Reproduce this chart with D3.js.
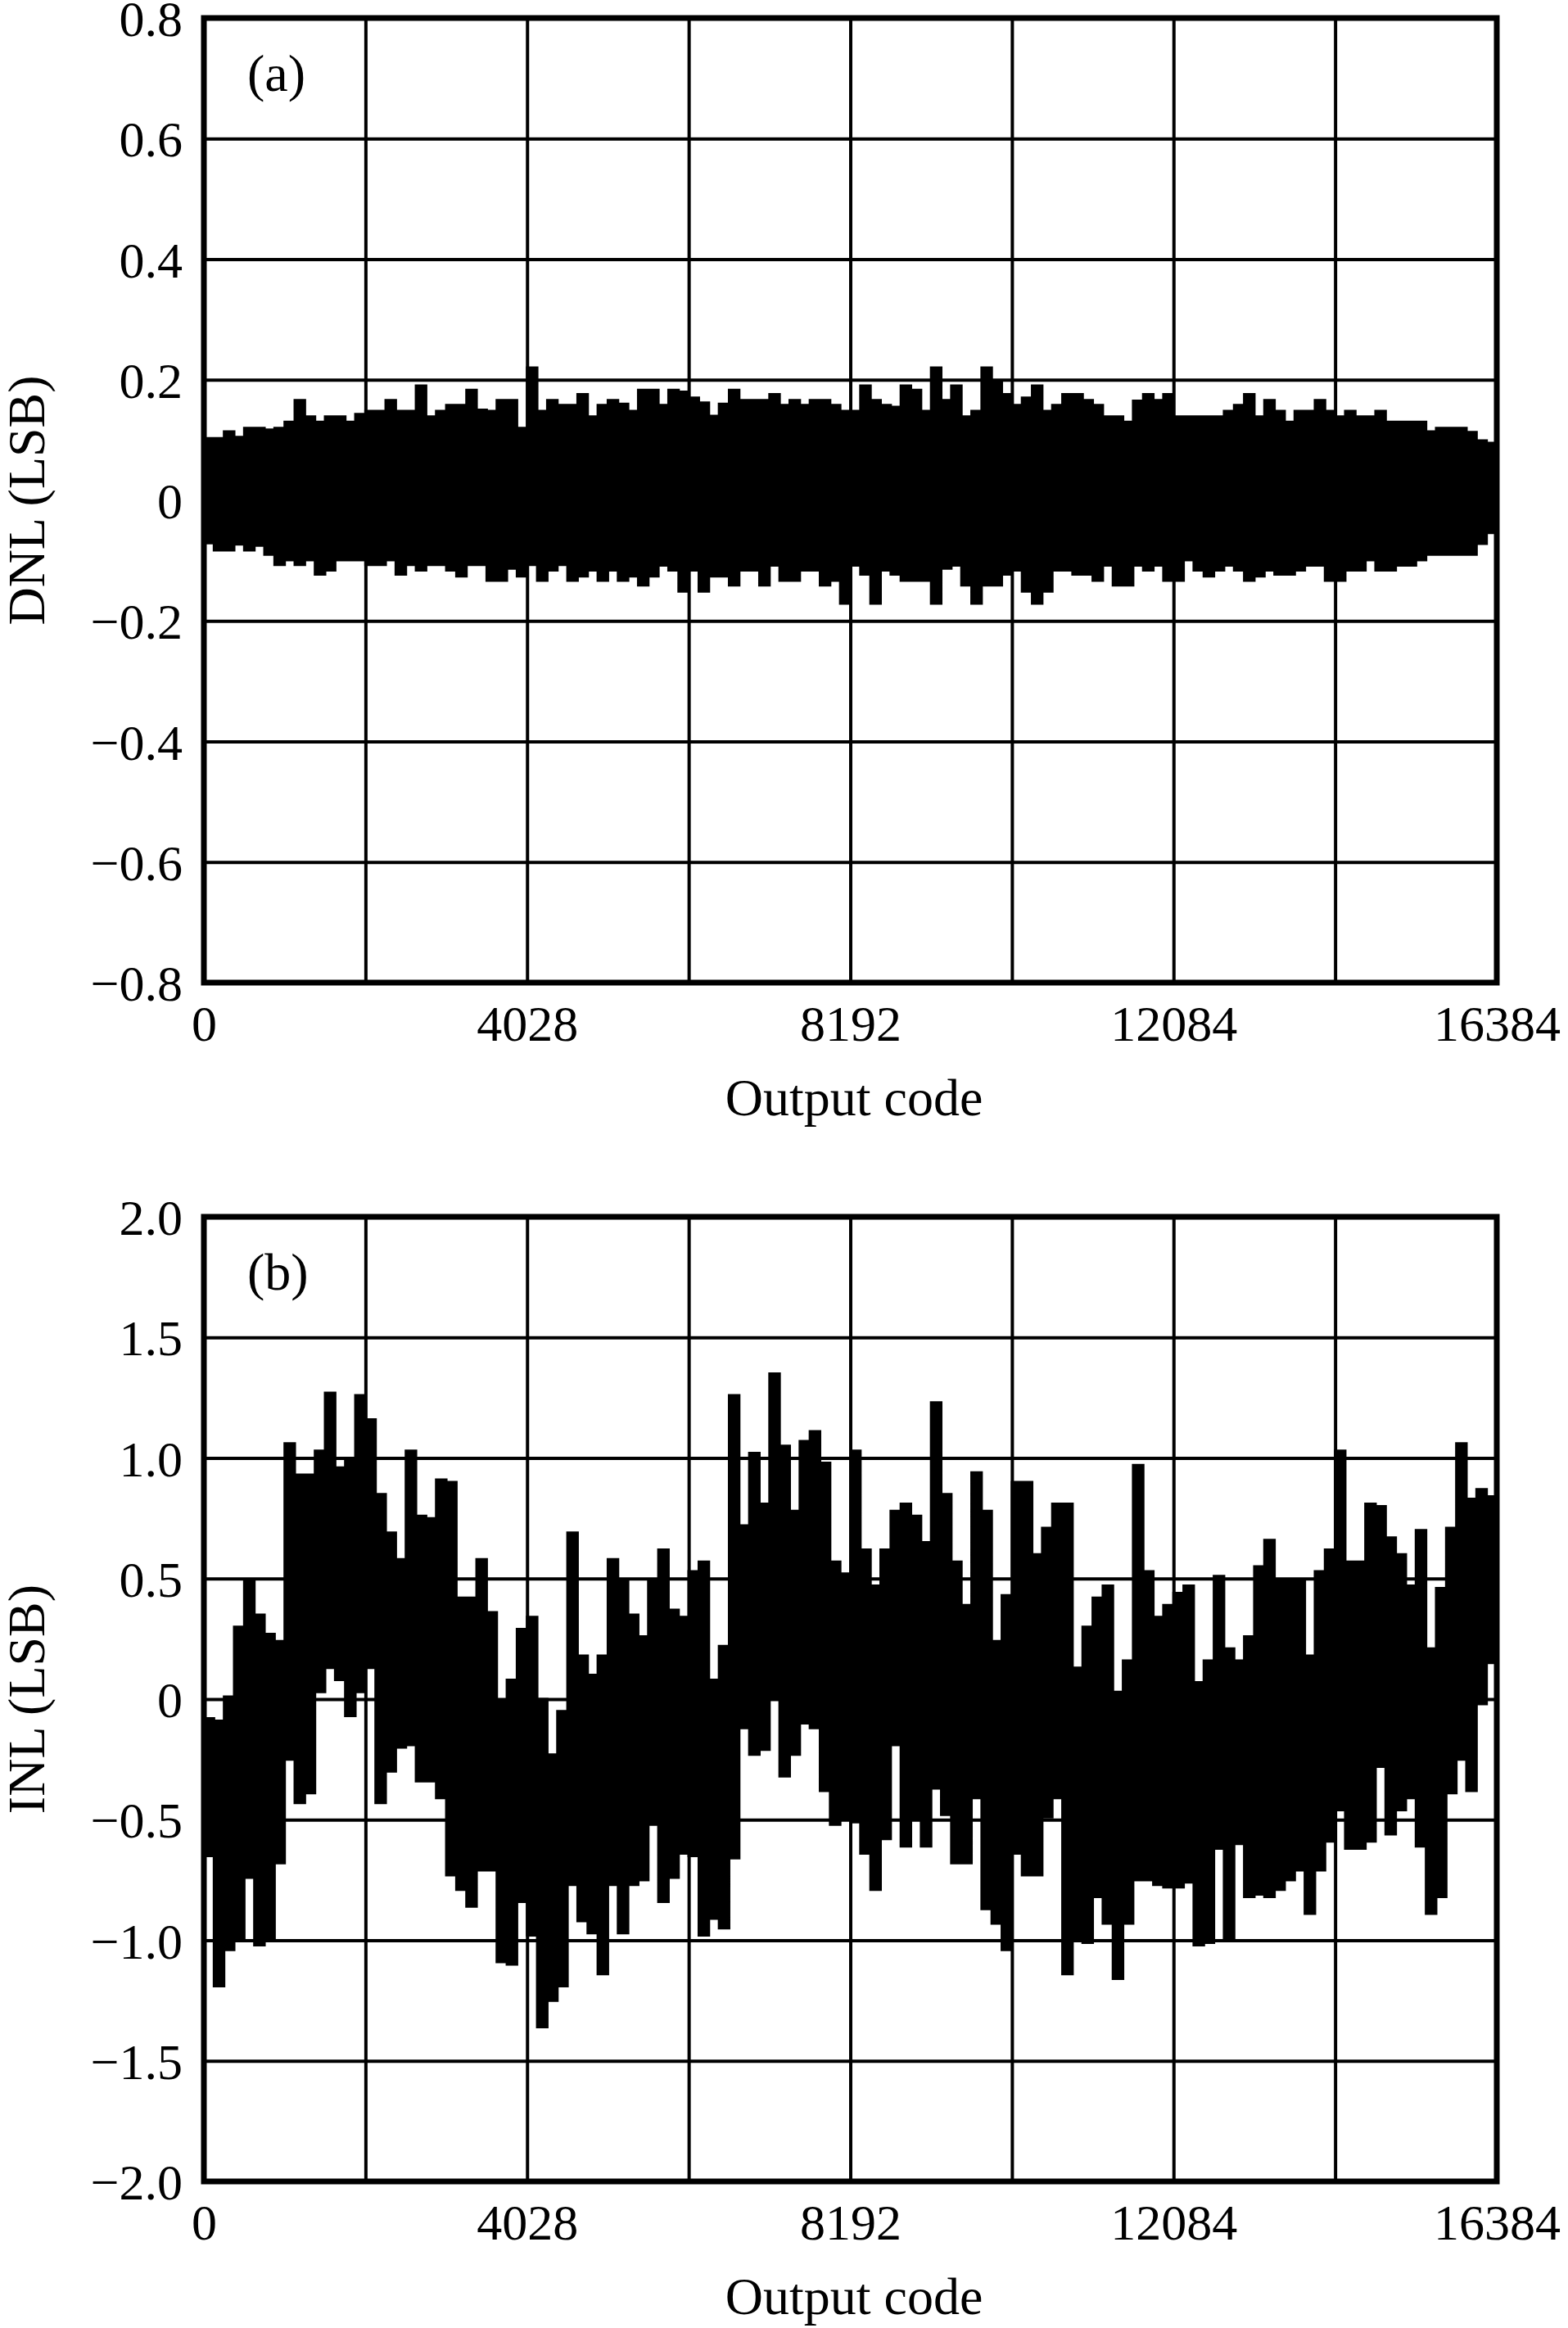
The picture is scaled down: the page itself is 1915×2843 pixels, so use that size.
<!DOCTYPE html>
<html><head><meta charset="utf-8">
<script src="https://cdn.jsdelivr.net/npm/d3@7"></script>
<style>body{margin:0;background:#fff}svg{display:block}</style>
</head><body>
<svg id="c" width="1915" height="2843"></svg>
<script>
// ---------------- data ----------------
const codeMax = 16384;
const binSize = 128; // codes per envelope bin
const xTickValues = [0, 4096, 8192, 12288, 16384];
const xTickLabels = ["0", "4028", "8192", "12084", "16384"];
const xGridValues = [0, 2048, 4096, 6144, 8192, 10240, 12288, 14336, 16384];
const xTitle = "Output code";

const dnlTicks = [0.8, 0.6, 0.4, 0.2, 0, -0.2, -0.4, -0.6, -0.8];
const dnlTickLabels = ["0.8", "0.6", "0.4", "0.2", "0", "\u22120.2", "\u22120.4", "\u22120.6", "\u22120.8"];
const dnlTitle = "DNL (LSB)";
const dnlTag = "(a)";

const inlTicks = [2.0, 1.5, 1.0, 0.5, 0, -0.5, -1.0, -1.5, -2.0];
const inlTickLabels = ["2.0", "1.5", "1.0", "0.5", "0", "\u22120.5", "\u22121.0", "\u22121.5", "\u22122.0"];
const inlTitle = "INL (LSB)";
const inlTag = "(b)";

// DNL envelope (max / min per 128-code bin)
const dnlUpper = [
0.103,0.103,0.114,0.105,0.120,0.120,0.117,0.120,0.130,0.166,
0.139,0.130,0.139,0.139,0.130,0.143,0.148,0.148,0.166,0.148,
0.148,0.190,0.139,0.148,0.158,0.158,0.183,0.150,0.148,0.166,
0.166,0.120,0.220,0.148,0.166,0.158,0.158,0.176,0.139,0.158,
0.166,0.160,0.148,0.183,0.183,0.158,0.183,0.180,0.170,0.162,
0.140,0.160,0.183,0.166,0.166,0.166,0.176,0.158,0.166,0.158,
0.166,0.166,0.158,0.148,
0.148,0.190,0.166,0.158,0.155,0.190,0.183,0.148,0.220,0.166,
0.190,0.139,0.148,0.220,0.196,0.176,0.158,0.170,0.190,0.148,
0.158,0.176,0.176,0.166,0.158,0.139,0.139,0.130,0.165,0.176,
0.166,0.176,0.139,0.139,0.139,0.139,0.139,0.148,0.158,0.176,
0.139,0.166,0.148,0.130,0.148,0.148,0.166,0.148,0.139,0.148,
0.139,0.139,0.148,0.130,0.130,0.130,0.130,0.114,0.120,0.120,
0.120,0.113,0.099,0.095];
const dnlLower = [
-0.071,-0.083,-0.083,-0.073,-0.083,-0.075,-0.090,-0.107,-0.099,-0.107,
-0.099,-0.123,-0.116,-0.099,-0.099,-0.099,-0.107,-0.107,-0.099,-0.123,
-0.107,-0.116,-0.107,-0.107,-0.116,-0.126,-0.107,-0.107,-0.133,-0.133,
-0.113,-0.126,-0.107,-0.133,-0.116,-0.107,-0.133,-0.126,-0.116,-0.133,
-0.116,-0.133,-0.126,-0.141,-0.126,-0.108,-0.116,-0.151,-0.116,-0.151,
-0.126,-0.126,-0.141,-0.116,-0.116,-0.141,-0.108,-0.133,-0.133,-0.116,
-0.116,-0.141,-0.133,-0.171,
-0.108,-0.123,-0.171,-0.116,-0.123,-0.133,-0.133,-0.133,-0.171,-0.113,
-0.108,-0.141,-0.171,-0.141,-0.141,-0.123,-0.116,-0.151,-0.171,-0.151,
-0.116,-0.116,-0.123,-0.123,-0.133,-0.108,-0.141,-0.141,-0.108,-0.116,
-0.108,-0.133,-0.133,-0.099,-0.116,-0.126,-0.116,-0.108,-0.116,-0.133,
-0.126,-0.116,-0.123,-0.123,-0.116,-0.108,-0.108,-0.133,-0.133,-0.116,
-0.116,-0.099,-0.116,-0.116,-0.108,-0.108,-0.099,-0.090,-0.090,-0.090,
-0.090,-0.090,-0.072,-0.054];

// INL envelope (max / min per 128-code bin)
const inlUpper = [
-0.08,-0.09,0.01,0.30,0.49,0.35,0.27,0.24,1.06,0.93,
0.93,1.03,1.27,0.96,0.99,1.26,1.16,0.85,0.69,0.58,
1.03,0.76,0.75,0.91,0.90,0.42,0.42,0.58,0.36,-0.01,
0.08,0.29,0.34,0.00,-0.23,-0.05,0.69,0.18,0.10,0.18,
0.58,0.49,0.35,0.26,0.49,0.62,0.37,0.34,0.53,0.57,
0.08,0.22,1.26,0.72,1.02,0.81,1.35,1.05,0.78,1.07,
1.11,0.98,0.57,0.52,
1.03,0.62,0.47,0.62,0.78,0.81,0.76,0.65,1.23,0.85,
0.57,0.39,0.94,0.78,0.24,0.43,0.90,0.90,0.60,0.71,
0.81,0.81,0.13,0.30,0.42,0.47,0.03,0.16,0.97,0.53,
0.34,0.39,0.44,0.47,0.07,0.16,0.51,0.21,0.16,0.26,
0.55,0.66,0.49,0.49,0.49,0.18,0.53,0.62,1.03,0.57,
0.57,0.81,0.80,0.67,0.60,0.47,0.70,0.21,0.46,0.71,
1.06,0.83,0.87,0.84];
const inlLower = [
-0.65,-1.19,-1.04,-1.00,-0.74,-1.02,-1.00,-0.68,-0.25,-0.43,
-0.39,0.03,0.13,0.08,-0.07,0.03,0.13,-0.43,-0.30,-0.20,
-0.19,-0.34,-0.34,-0.41,-0.73,-0.79,-0.86,-0.71,-0.71,-1.09,
-1.10,-0.84,-0.98,-1.36,-1.25,-1.19,-0.77,-0.92,-0.97,-1.14,
-0.77,-0.97,-0.77,-0.75,-0.52,-0.84,-0.74,-0.64,-0.65,-0.98,
-0.91,-0.95,-0.66,-0.12,-0.23,-0.21,0.00,-0.32,-0.23,-0.10,
-0.12,-0.38,-0.52,-0.50,
-0.51,-0.64,-0.79,-0.58,-0.19,-0.61,-0.50,-0.61,-0.37,-0.48,
-0.68,-0.68,-0.41,-0.87,-0.93,-1.04,-0.64,-0.73,-0.73,-0.49,
-0.41,-1.14,-1.00,-1.01,-0.82,-0.93,-1.16,-0.93,-0.75,-0.75,
-0.77,-0.78,-0.78,-0.76,-1.02,-1.01,-0.62,-1.00,-0.60,-0.82,
-0.81,-0.82,-0.79,-0.75,-0.71,-0.89,-0.71,-0.59,-0.46,-0.62,
-0.62,-0.59,-0.28,-0.56,-0.46,-0.41,-0.61,-0.89,-0.82,-0.39,
-0.25,-0.38,-0.02,0.15];

// ---------------- drawing ----------------
const svg = d3.select("#c");
const FONT = "'Liberation Serif','Times New Roman',serif";
const left = 249, right = 1828;

const panels = [
  {top: 22, bottom: 1200, domain: [-0.8, 0.8], ticks: dnlTicks, labels: dnlTickLabels,
   title: dnlTitle, tag: dnlTag, up: dnlUpper, lo: dnlLower, id: "a"},
  {top: 1486, bottom: 2664, domain: [-2, 2], ticks: inlTicks, labels: inlTickLabels,
   title: inlTitle, tag: inlTag, up: inlUpper, lo: inlLower, id: "b"}
];

panels.forEach(p => {
  const x = d3.scaleLinear().domain([0, codeMax]).range([left, right]);
  const y = d3.scaleLinear().domain(p.domain).range([p.bottom, p.top]);
  const w = right - left, h = p.bottom - p.top;
  const g = svg.append("g");

  svg.append("clipPath").attr("id", "clip" + p.id)
    .append("rect").attr("x", left).attr("y", p.top).attr("width", w).attr("height", h);

  // grid: vertical
  const gx = g.append("g").attr("transform", `translate(0,${p.bottom})`)
    .call(d3.axisBottom(x).tickValues(xGridValues).tickSize(-h).tickFormat(""));
  gx.select(".domain").remove();
  gx.selectAll("line").attr("stroke", "#000").attr("stroke-width", 4);

  // grid: horizontal
  const gy = g.append("g").attr("transform", `translate(${left},0)`)
    .call(d3.axisLeft(y).tickValues(p.ticks).tickSize(-w).tickFormat(""));
  gy.select(".domain").remove();
  gy.selectAll("line").attr("stroke", "#000").attr("stroke-width", 4);

  // data envelope as stepped area
  const pts = p.up.map((u, i) => ({c: i * binSize, hi: u, lo: p.lo[i]}));
  pts.push({c: codeMax, hi: p.up[p.up.length - 1], lo: p.lo[p.lo.length - 1]});
  const area = d3.area().curve(d3.curveStepAfter)
    .x(d => x(d.c)).y0(d => y(d.lo)).y1(d => y(d.hi));
  g.append("path").datum(pts).attr("d", area)
    .attr("fill", "#000").attr("stroke", "#000").attr("stroke-width", 3)
    .attr("stroke-linejoin", "miter")
    .attr("clip-path", `url(#clip${p.id})`);

  // frame
  g.append("rect").attr("x", left).attr("y", p.top).attr("width", w).attr("height", h)
    .attr("fill", "none").attr("stroke", "#000").attr("stroke-width", 7);

  // y tick labels
  const ya = g.append("g").attr("transform", `translate(${left},0)`)
    .call(d3.axisLeft(y).tickValues(p.ticks).tickSize(0).tickPadding(26)
      .tickFormat((d, i) => p.labels[i]));
  ya.select(".domain").remove();
  ya.selectAll("text").attr("font-family", FONT).attr("font-size", 62)
    .attr("fill", "#000").attr("dy", "0.35em");

  // x tick labels
  const xa = g.append("g").attr("transform", `translate(0,${p.bottom})`)
    .call(d3.axisBottom(x).tickValues(xTickValues).tickSize(0).tickPadding(0)
      .tickFormat((d, i) => xTickLabels[i]));
  xa.select(".domain").remove();
  xa.selectAll("text").attr("font-family", FONT).attr("font-size", 62)
    .attr("fill", "#000").attr("y", 71).attr("dy", 0);

  // x title
  g.append("text").attr("x", 1043).attr("y", p.bottom + 162)
    .attr("text-anchor", "middle").attr("font-family", FONT).attr("font-size", 64)
    .text(xTitle);

  // y title
  const cy = (p.top + p.bottom) / 2;
  g.append("text").attr("transform", `translate(54,${cy}) rotate(-90)`)
    .attr("text-anchor", "middle").attr("font-family", FONT).attr("font-size", 64)
    .text(p.title);

  // panel tag
  g.append("text").attr("x", 302).attr("y", p.top + 89)
    .attr("font-family", FONT).attr("font-size", 64).text(p.tag);
});
</script>
</body></html>
